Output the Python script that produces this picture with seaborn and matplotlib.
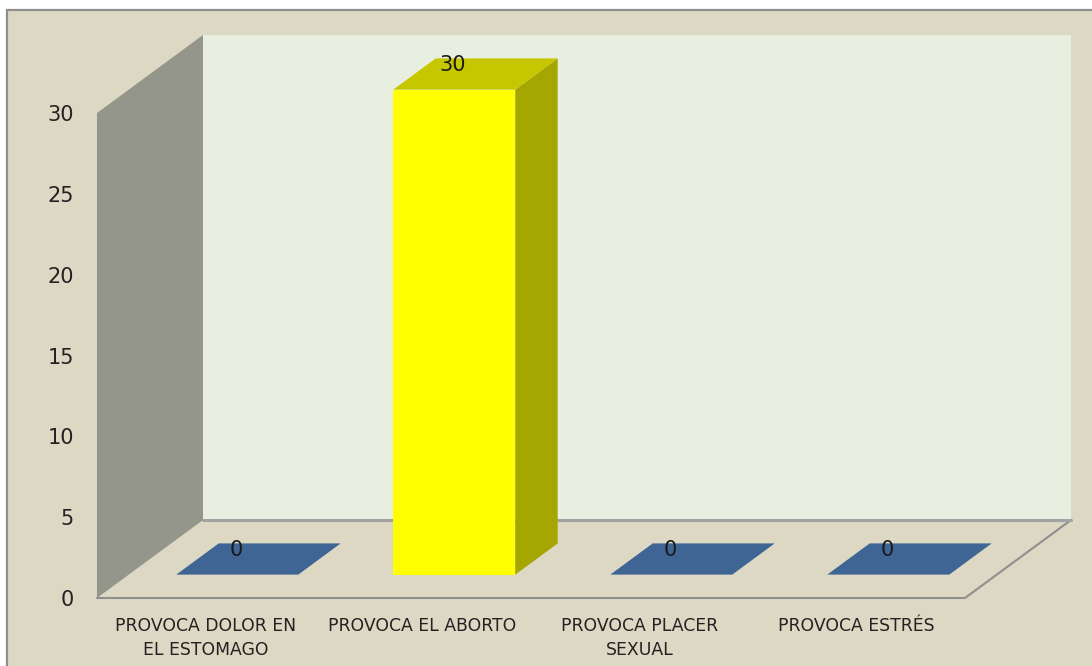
import numpy as np
import pandas as pd
import seaborn as sns
import matplotlib
matplotlib.use("Agg")
import matplotlib.pyplot as plt
from matplotlib.patches import Polygon, Rectangle
from matplotlib.lines import Line2D
from matplotlib.transforms import IdentityTransform
from matplotlib.colors import to_rgb

# ---- data ----
categories = ["PROVOCA DOLOR EN\nEL ESTOMAGO", "PROVOCA EL ABORTO",
              "PROVOCA PLACER\nSEXUAL", "PROVOCA ESTRÉS"]
values = [0, 30, 0, 0]
bar_colors = ["#4F81BD", "#FFFF00", "#4F81BD", "#4F81BD"]
y_ticks = [0, 5, 10, 15, 20, 25, 30]

# ---- layout (pixels) ----
W, H, DPI = 1092, 666, 100
AX_L, AX_B, AX_W, AX_H = 97, 68, 868, 485
DEPTH = np.array([106.0, 78.0])   # full floor depth in pixels
BAR_FRONT = 0.30                  # bars start at this fraction of depth
BAR_DEPTH = 0.40                  # bar depth as fraction of full depth

sns.set_theme(style="white")
plt.rcParams['font.family'] = ['DejaVu Sans']

fig = plt.figure(figsize=(W / DPI, H / DPI), dpi=DPI, facecolor='white')
fig.patches.append(Rectangle((7 / W, -0.05), 1.2, 656 / H + 0.05,
                             transform=fig.transFigure, fc='#DDD8C4',
                             ec='#8E8E8E', lw=1.6, zorder=-10))

ax = fig.add_axes([AX_L / W, AX_B / H, AX_W / W, AX_H / H])
ax.set_xlim(-0.5, len(categories) - 0.5)
ax.set_ylim(0, max(y_ticks))
ax.patch.set_visible(False)
for s in ax.spines.values():
    s.set_visible(False)

off = BAR_FRONT * DEPTH
ax_bar = fig.add_axes([(AX_L + off[0]) / W, (AX_B + off[1]) / H, AX_W / W, AX_H / H])
df = pd.DataFrame({"cat": categories, "val": values})
sns.barplot(data=df, x="cat", y="val", hue="cat", order=categories,
            hue_order=categories, palette=bar_colors, legend=False,
            saturation=1, width=0.562, linewidth=0, ax=ax_bar)
ax_bar.set_xlim(ax.get_xlim())
ax_bar.set_ylim(ax.get_ylim())
ax_bar.axis('off')

ID = IdentityTransform()


def disp(a, x, y, f=0.0):
    return a.transData.transform((x, y)) + f * DEPTH


x0, x1 = ax.get_xlim()
y0, y1 = ax.get_ylim()

# back wall
back = [disp(ax, x0, y0, 1), disp(ax, x1, y0, 1), disp(ax, x1, y1, 1), disp(ax, x0, y1, 1)]
ax.add_patch(Polygon(back, closed=True, fc='#E9EFE0', ec='none', transform=ID,
                     clip_on=False, zorder=0.5))
# left wall
left = [disp(ax, x0, y0, 0), disp(ax, x0, y0, 1), disp(ax, x0, y1, 1), disp(ax, x0, y1, 0)]
ax.add_patch(Polygon(left, closed=True, fc='#94968B', ec='none', transform=ID,
                     clip_on=False, zorder=0.6))
# floor outline
fl_pts = np.array([disp(ax, x1, y0, 1), disp(ax, x1, y0, 0), disp(ax, x0, y0, 0)])
ax.add_line(Line2D(fl_pts[:, 0], fl_pts[:, 1], color='#8F8F8F', lw=1.5,
                   transform=ID, clip_on=False, zorder=0.7))
bk_pts = np.array([disp(ax, x0, y0, 1), disp(ax, x1, y0, 1)])
ax.add_line(Line2D(bk_pts[:, 0], bk_pts[:, 1], color='#A3A3A3', lw=2.2,
                   transform=ID, clip_on=False, zorder=0.7))

# ticks
ax.set_yticks(y_ticks)
ax.set_yticklabels([str(t) for t in y_ticks])
ax.tick_params(axis='y', length=0, pad=16.5, labelsize=15, colors='#222222')
ax.set_xticks(range(len(categories)))
ax.set_xticklabels(categories, fontsize=12.4, color='#222222', linespacing=1.42)
ax.tick_params(axis='x', length=0, pad=13.5)
ax.set_xlabel('')
ax.set_ylabel('')


def shade(c, k):
    r, g, b = to_rgb(c)
    return (r * k, g * k, b * k)


bd = BAR_DEPTH * DEPTH
for patch in list(ax_bar.patches):
    x = patch.get_x()
    w = patch.get_width()
    h = patch.get_height()
    fc = patch.get_facecolor()
    flt = disp(ax_bar, x, h)
    frt = disp(ax_bar, x + w, h)
    frb = disp(ax_bar, x + w, 0)
    side = [frb, frt, frt + bd, frb + bd]
    top = [flt, frt, frt + bd, flt + bd]
    if h > 0:
        ax_bar.add_patch(Polygon(side, closed=True, fc=shade(fc, 0.65), ec='none',
                                 transform=ID, clip_on=False, zorder=3))
    ax_bar.add_patch(Polygon(top, closed=True, fc=shade(fc, 0.78), ec='none',
                             transform=ID, clip_on=False, zorder=3))
    ax_bar.annotate(f"{h:g}", xy=(x + w / 2, h), xytext=(-1.0, 18),
                    textcoords='offset points', ha='center', va='center',
                    fontsize=15, color='#1A1A1A', zorder=5)

fig.savefig("out.png", dpi=DPI, facecolor=fig.get_facecolor())
